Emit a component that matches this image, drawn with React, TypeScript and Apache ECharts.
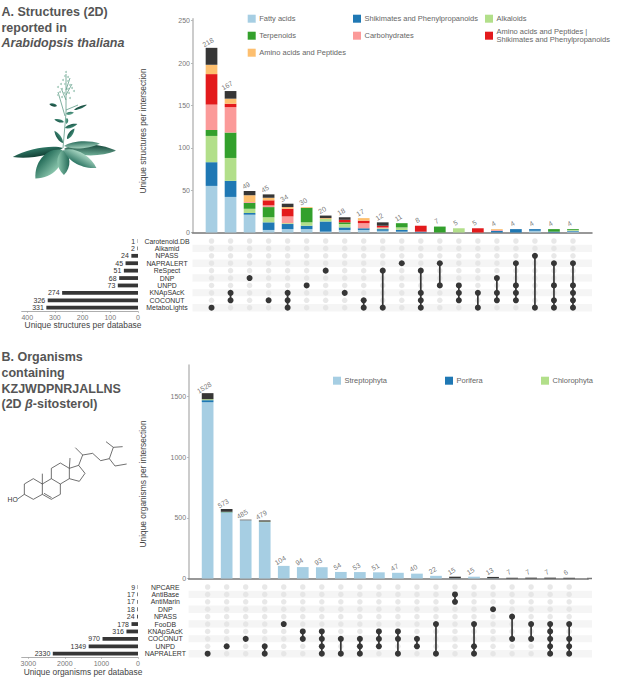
import * as echarts from 'echarts'
import React, { useEffect, useRef } from 'react'

const FONT = '"Liberation Sans", Arial, sans-serif'
const textColor = '#555'
const darkColor = '#363636'
const blue = '#a6cee3'
const darkBlue = '#1f78b4'
const lightGreen = '#b2df8a'
const green = '#33a02c'
const pink = '#fb9a99'
const red = '#e31a1c'
const orange = '#fdbf6f'

// panel A, bars
const totalsA = [218, 167, 49, 45, 34, 30, 20, 18, 17, 12, 11, 8, 7, 5, 5, 4, 4, 4, 4, 4]
const fattyAcids = [55, 42, 21, 3, 4, 4, 1, 3, 3, 2, 1, 0, 0, 0, 0, 0, 0, 2, 0, 1]
const shikimates = [28, 19, 2, 9, 6, 4, 12, 3, 2, 2, 2, 1, 0, 0, 0, 2, 4, 2, 1, 1]
const alkaloids = [31, 27, 5, 6, 1, 4, 3, 4, 0, 1, 3, 0, 0, 5, 0, 0, 0, 0, 0, 1]
const terpenoids = [7, 30, 7, 12, 0, 17, 0, 2, 0, 0, 5, 0, 7, 0, 0, 0, 0, 0, 3, 1]
const carbohydrates = [30, 30, 1, 2, 8, 0, 0, 0, 6, 1, 0, 0, 0, 0, 0, 1, 0, 0, 0, 0]
const aminoShikimates = [36, 4, 0, 6, 9, 0, 0, 3, 3, 2, 0, 7, 0, 0, 5, 0, 0, 0, 0, 0]
const aminoAcids = [11, 6, 8, 3, 2, 1, 1, 0, 3, 0, 0, 0, 0, 0, 0, 1, 0, 0, 0, 0]
const otherA = [20, 9, 5, 4, 4, 0, 3, 3, 0, 4, 0, 0, 0, 0, 0, 0, 0, 0, 0, 0]

// panel A, databases (top to bottom) and intersections
const databasesA = ['Carotenoid.DB', 'Alkamid', 'NPASS', 'NAPRALERT', 'ReSpect', 'DNP', 'UNPD', 'KNApSAcK', 'COCONUT', 'MetaboLights']
const databaseTotalsA = [1, 2, 24, 45, 51, 68, 73, 274, 326, 331]
const setsA = [[9], [7, 8], [5], [8], [7, 8, 9], [6], [4], [7], [8, 9], [4, 9], [3], [4, 7, 8, 9], [3, 6], [6, 7, 8], [7, 9], [5, 7, 8], [3, 6, 7, 8], [2, 9], [3, 6, 8, 9], [3, 6, 7, 8, 9]]

// panel B, bars
const totalsB = [1528, 573, 485, 479, 104, 94, 93, 54, 53, 51, 47, 40, 22, 15, 15, 13, 7, 7, 7, 6]
const streptophyta = [1454, 540, 480, 465, 104, 94, 93, 54, 53, 51, 47, 40, 22, 2, 15, 2, 0, 0, 0, 0]
const porifera = [16, 5, 0, 0, 0, 0, 0, 0, 0, 0, 0, 0, 0, 0, 0, 0, 0, 0, 0, 0]
const chlorophyta = [8, 5, 0, 4, 0, 0, 0, 0, 0, 0, 0, 0, 0, 0, 0, 0, 0, 0, 0, 0]
const otherB = [50, 23, 5, 10, 0, 0, 0, 0, 0, 0, 0, 0, 0, 13, 0, 11, 7, 7, 7, 6]

// panel B, databases and intersections
const databasesB = ['NPCARE', 'AntiBase', 'AntiMarin', 'DNP', 'NPASS', 'FooDB', 'KNApSAcK', 'COCONUT', 'UNPD', 'NAPRALERT']
const databaseTotalsB = [9, 17, 17, 18, 24, 178, 316, 970, 1349, 2330]
const setsB = [[9], [8], [7], [8, 9], [5], [6, 7], [6, 7, 8, 9], [7, 9], [7, 8, 9], [6, 7, 8], [6, 7, 9], [7, 8], [5, 9], [1, 2], [5, 8, 9], [3], [4, 7], [5, 7], [5, 6, 7, 8, 9], [5, 7, 8, 9]]

// drawings, in page pixels
const leafPath = 'M0 0 C20 -50 70 -50 100 0 C70 50 20 50 0 0 Z'
echarts.graphic.registerShape('leaf', echarts.graphic.extendPath(leafPath, {}))

// x, y, length, width, angle, colour
const plantLeaves: [number, number, number, number, number, string, string][] = [
  [64, 149, 52, 11, 358, '#16463a', '#6fae97'],
  [64, 146, 36, 7, 4, '#2c6f5e', '#a3d0bd'],
  [63, 148, 51, 8, 190, '#123f34', '#2f7765'],
  [62, 150, 39, 19, 227, '#8cc7ae', '#226a57'],
  [63, 150, 25, 12, 272, '#246a58', '#8cc7ae'],
  [64, 150, 37, 12, 331, '#a9d7c3', '#2f7765'],
  [63, 143, 15, 4, 125, '#1c584a', '#3f8a75'],
  [67, 139, 13, 4, 55, '#1c584a', '#3f8a75'],
  [64, 122, 10, 3, 165, '#1c584a', '#3f8a75'],
  [65, 128, 13, 3.5, 18, '#1c584a', '#3f8a75'],
  [66, 114, 8, 3, 10, '#2f7765', '#6fae97'],
  [57, 106, 8, 3, 165, '#143f35', '#2f7765'],
  [74, 110, 14, 2.5, 22, '#143f35', '#2f7765'],
  [67, 118, 6, 3, 265, '#2f7765', '#6fae97'],
]
const plantStems: number[][][] = [
  [[63, 148], [66, 113], [66, 74]],
  [[65, 116], [58, 92]],
  [[66, 110], [78, 105]],
  [[66, 95], [72, 84]],
  [[66, 100], [61, 88]],
  [[66, 90], [70, 78]],
]
const flowers = [[66, 72], [65, 76], [68, 77], [63, 80], [68, 81], [61, 84], [65, 84], [70, 85], [58, 87], [62, 89], [68, 89], [72, 88], [60, 92], [64, 93], [69, 93], [74, 91], [58, 95], [70, 98], [62, 97]]

const moleculeLines: number[][][] = [
  [[73, 432], [100, 416], [127, 432], [127, 463], [100, 478], [73, 463], [73, 432]],
  [[127, 432], [154, 416], [181, 432], [181, 463], [154, 478], [127, 463]],
  [[132, 460], [155, 473]],
  [[154, 416], [154, 385], [181, 369], [208, 385], [208, 416], [181, 432]],
  [[208, 385], [236, 376], [255, 400], [238, 424], [208, 416]],
  [[127, 432], [127, 401]],
  [[208, 385], [210, 354]],
  [[53, 477], [73, 463]],
  [[236, 376], [248, 345], [226, 323]],
  [[248, 345], [278, 340], [302, 362], [328, 356], [345, 378], [380, 372]],
  [[328, 356], [340, 322], [318, 305]],
  [[340, 322], [368, 320]],
]

function legendItem(x: number, y: number, color: string, label: string, textGap = 3.5) {
  return [
    { type: 'rect', shape: { x, y: y - 4, width: 8, height: 8 }, style: { fill: color } },
    {
      type: 'text',
      x: x + 8 + textGap,
      y,
      style: { text: label, fill: '#666', font: `500 7.5px ${FONT}`, textVerticalAlign: 'middle', lineHeight: 8.5 },
    },
  ]
}

function titleLine(y: number, text: string, italic = false) {
  return {
    type: 'text',
    x: 1.5,
    y,
    style: {
      text,
      fill: textColor,
      font: `${italic ? 'italic ' : ''}bold 12.5px ${FONT}`,
      textVerticalAlign: 'middle',
      rich: { i: { font: `italic bold 12.5px ${FONT}`, fill: textColor } },
    },
  }
}

function axisTitle(x: number, y: number, text: string, vertical = false) {
  return {
    type: 'text',
    x,
    y,
    rotation: vertical ? Math.PI / 2 : 0,
    style: {
      text,
      fill: '#444',
      font: `8.4px ${FONT}`,
      textAlign: 'center',
      textVerticalAlign: 'middle',
    },
  }
}

function drawings() {
  const leaves = plantLeaves.map(([x, y, len, wid, angle, c0, c1]) => ({
    type: 'leaf',
    x,
    y,
    scaleX: len / 100,
    scaleY: wid / 75,
    rotation: (angle * Math.PI) / 180,
    style: {
      fill: new echarts.graphic.LinearGradient(0, 0, 0, 1, [
        { offset: 0, color: c0 },
        { offset: 1, color: c1 },
      ]),
    },
  }))
  const stems = plantStems.map((points) => ({
    type: 'polyline',
    shape: { points },
    style: { stroke: '#5f9c88', lineWidth: 0.8, fill: 'none' },
  }))
  const dots = flowers.map(([cx, cy]) => ({
    type: 'circle',
    shape: { cx, cy, r: 1 },
    style: { fill: '#a9cdbf' },
  }))
  const molecule = moleculeLines.map((line) => ({
    type: 'polyline',
    shape: { points: line.map(([x, y]) => [x / 3, y / 3 + 340]) },
    style: { stroke: '#333', lineWidth: 0.7, fill: 'none' },
  }))
  return [...stems, ...leaves, ...dots, ...molecule]
}

function panel(opts: {
  index: number
  left: number
  top: number
  base: number
  right: number
  barRight: number
  yMax: number
  yTicks: number[]
  xMax: number
  stacks: { name: string; color: string; data: number[] }[]
  totals: number[]
  databases: string[]
  databaseTotals: number[]
  sets: number[][]
  rowTop: number
  rowBottom: number
  setMax: number
  setTicks: number[]
  labelMargin: number
}) {
  const i0 = opts.index
  const rowHeight = opts.rowBottom - opts.rowTop
  const grid = [
    { left: opts.left, top: opts.top, width: opts.barRight - opts.left, height: opts.base - opts.top },
    { left: opts.left, top: opts.rowTop, width: opts.right - opts.left, height: rowHeight },
    { left: 21.7, top: opts.rowTop, width: 116.3, height: rowHeight },
  ]
  // one empty slot before and after the 20 intersections
  const columns = ['', ...opts.totals.map(String), '']
  const xAxis = [
    {
      type: 'category',
      gridIndex: i0,
      boundaryGap: false,
      data: columns,
      axisLabel: { show: false },
      axisTick: { show: false },
      splitLine: { show: false },
      axisLine: { show: true, onZero: false, lineStyle: { color: '#777', width: 1.5 } },
    },
    {
      type: 'value',
      gridIndex: i0 + 1,
      min: 0,
      max: opts.xMax,
      axisLabel: { show: false },
      axisTick: { show: false },
      splitLine: { show: false },
      axisLine: { show: false },
    },
    {
      type: 'value',
      gridIndex: i0 + 2,
      inverse: true,
      min: 0,
      max: opts.setMax,
      splitLine: { show: false },
      axisLine: { show: true, onZero: false, lineStyle: { color: '#999', width: 0.8 } },
      axisTick: { show: true, length: 1.5, customValues: opts.setTicks, lineStyle: { color: '#999', width: 0.6 } },
      axisLabel: {
        show: true,
        customValues: opts.setTicks,
        formatter: (v: number) => String(v),
        fontFamily: FONT,
        fontSize: 7,
        color: '#777',
        margin: 2.5,
      },
    },
  ]
  const yAxis = [
    {
      type: 'value',
      gridIndex: i0,
      min: 0,
      max: opts.yMax,
      splitLine: { show: false },
      axisLine: { show: true, lineStyle: { color: '#bbb', width: 1.5 } },
      axisTick: { show: true, length: 1.5, customValues: opts.yTicks, lineStyle: { color: '#888', width: 0.6 } },
      axisLabel: {
        show: true,
        customValues: opts.yTicks,
        formatter: (v: number) => String(v),
        fontFamily: FONT,
        fontSize: 7,
        color: '#777',
        margin: 2.5,
      },
    },
    {
      type: 'category',
      gridIndex: i0 + 1,
      inverse: true,
      data: opts.databases,
      axisLine: { show: false },
      axisTick: { show: false },
      splitLine: { show: false },
      splitArea: { show: true, interval: 0, areaStyle: { color: ['#ffffff', '#f5f5f5'] } },
      axisLabel: {
        interval: 0,
        align: 'center',
        margin: opts.labelMargin,
        fontFamily: FONT,
        fontSize: 6.9,
        lineHeight: 7,
        color: '#333',
      },
    },
    {
      type: 'category',
      gridIndex: i0 + 2,
      inverse: true,
      data: opts.databases,
      axisLine: { show: false },
      axisTick: { show: false },
      axisLabel: { show: false },
    },
  ]

  const bars = opts.stacks.map((s) => ({
    type: 'bar',
    name: s.name,
    xAxisIndex: i0,
    yAxisIndex: i0,
    stack: 'p' + i0,
    barWidth: 11.7,
    itemStyle: { color: s.color },
    data: [0, ...s.data, 0],
  }))
  const totalLabels = {
    type: 'scatter',
    xAxisIndex: i0,
    yAxisIndex: i0,
    symbolSize: 1,
    itemStyle: { color: 'transparent' },
    label: {
      show: true,
      position: 'top',
      distance: 3,
      offset: [-2, 0],
      rotate: 30,
      fontFamily: FONT,
      fontSize: 7,
      color: '#555',
      formatter: (p: any) => String(p.value[1]),
    },
    data: opts.totals.map((v, i) => [i + 1, v]),
  }
  const background = {
    type: 'scatter',
    xAxisIndex: i0 + 1,
    yAxisIndex: i0 + 1,
    symbolSize: 5.5,
    itemStyle: { color: '#e2e2e2' },
    data: opts.sets.flatMap((_, c) => opts.databases.map((_d, r) => [c + 1, r])),
  }
  const links = opts.sets.map((rows, c) => ({
    type: 'line',
    xAxisIndex: i0 + 1,
    yAxisIndex: i0 + 1,
    symbol: 'circle',
    symbolSize: 6,
    showSymbol: true,
    showAllSymbol: true,
    itemStyle: { color: darkColor },
    lineStyle: { color: darkColor, width: 1.7 },
    data: rows.map((r) => [c + 1, r]),
  }))
  const setBars = {
    type: 'bar',
    xAxisIndex: i0 + 2,
    yAxisIndex: i0 + 2,
    barWidth: 3.8,
    itemStyle: { color: darkColor },
    label: { show: true, position: 'left', distance: 2.5, fontFamily: FONT, fontSize: 7, color: '#333' },
    data: opts.databaseTotals,
  }
  return { grid, xAxis, yAxis, series: [...bars, totalLabels, background, ...links, setBars] }
}

export default function App() {
  const chartRef = useRef<HTMLDivElement>(null)

  useEffect(() => {
    const chart = echarts.init(chartRef.current, null, { renderer: 'svg' })

    const a = panel({
      index: 0,
      left: 192.5,
      top: 18.7,
      base: 232.5,
      right: 592,
      barRight: 592,
      yMax: 252.4,
      yTicks: [0, 50, 100, 150, 200, 250],
      xMax: 21,
      stacks: [
        { name: 'Fatty acids', color: blue, data: fattyAcids },
        { name: 'Shikimates and Phenylpropanoids', color: darkBlue, data: shikimates },
        { name: 'Alkaloids', color: lightGreen, data: alkaloids },
        { name: 'Terpenoids', color: green, data: terpenoids },
        { name: 'Carbohydrates', color: pink, data: carbohydrates },
        { name: 'Amino acids and Peptides | Shikimates and Phenylpropanoids', color: red, data: aminoShikimates },
        { name: 'Amino acids and Peptides', color: orange, data: aminoAcids },
        { name: 'Other', color: darkColor, data: otherA },
      ],
      totals: totalsA,
      databases: databasesA,
      databaseTotals: databaseTotalsA,
      sets: setsA,
      rowTop: 237.3,
      rowBottom: 311.4,
      setMax: 420,
      setTicks: [0, 100, 200, 300, 400],
      labelMargin: 25.5,
    })
    const b = panel({
      index: 3,
      left: 188.6,
      top: 365,
      base: 578.5,
      right: 592,
      barRight: 588.2,
      yMax: 1760,
      yTicks: [0, 500, 1000, 1500],
      xMax: 21.2,
      stacks: [
        { name: 'Streptophyta', color: blue, data: streptophyta },
        { name: 'Porifera', color: darkBlue, data: porifera },
        { name: 'Chlorophyta', color: lightGreen, data: chlorophyta },
        { name: 'Other', color: darkColor, data: otherB },
      ],
      totals: totalsB,
      databases: databasesB,
      databaseTotals: databaseTotalsB,
      sets: setsB,
      rowTop: 583.3,
      rowBottom: 657.4,
      setMax: 3180,
      setTicks: [0, 1000, 2000, 3000],
      labelMargin: 23.3,
    })

    const option = {
      animation: false,
      backgroundColor: '#fff',
      textStyle: { fontFamily: FONT },
      grid: [...a.grid, ...b.grid],
      xAxis: [...a.xAxis, ...b.xAxis],
      yAxis: [...a.yAxis, ...b.yAxis],
      series: [...a.series, ...b.series],
      graphic: [
        titleLine(12, 'A. Structures (2D)'),
        titleLine(27.7, 'reported in'),
        titleLine(43.3, 'Arabidopsis thaliana', true),
        titleLine(357.3, 'B. Organisms'),
        titleLine(373, 'containing'),
        titleLine(388.6, 'KZJWDPNRJALLNS'),
        titleLine(404.2, '(2D {i|\u03B2}-sitosterol)'),
        axisTitle(143, 131, 'Unique structures per intersection', true),
        axisTitle(143, 484, 'Unique organisms per intersection', true),
        axisTitle(83, 325.3, 'Unique structures per database'),
        axisTitle(83, 671.7, 'Unique organisms per database'),
        ...legendItem(247.7, 18.7, blue, 'Fatty acids'),
        ...legendItem(247.7, 35.7, green, 'Terpenoids'),
        ...legendItem(247.7, 52.7, orange, 'Amino acids and Peptides'),
        ...legendItem(353, 18.7, darkBlue, 'Shikimates and Phenylpropanoids'),
        ...legendItem(353, 35.7, pink, 'Carbohydrates'),
        ...legendItem(485, 18.7, lightGreen, 'Alkaloids'),
        ...legendItem(485, 35.7, red, 'Amino acids and Peptides |\nShikimates and Phenylpropanoids'),
        ...legendItem(333, 380.7, blue, 'Streptophyta'),
        ...legendItem(445, 380.7, darkBlue, 'Porifera'),
        ...legendItem(541, 380.7, lightGreen, 'Chlorophyta'),
        { type: 'line', shape: { x1: 587, y1: 578.5, x2: 592, y2: 578.5 }, style: { stroke: '#777', lineWidth: 1.5 } },
        {
          type: 'text',
          x: 7.5,
          y: 499.5,
          style: { text: 'HO', fill: '#333', font: `6.8px ${FONT}`, textVerticalAlign: 'middle' },
        },
        ...drawings(),
      ],
    }

    chart.setOption(option as any)

    return () => {
      chart.dispose()
    }
  }, [])

  return <div ref={chartRef} style={{ position: 'absolute', left: 0, top: 0, width: 617, height: 687 }} />
}
